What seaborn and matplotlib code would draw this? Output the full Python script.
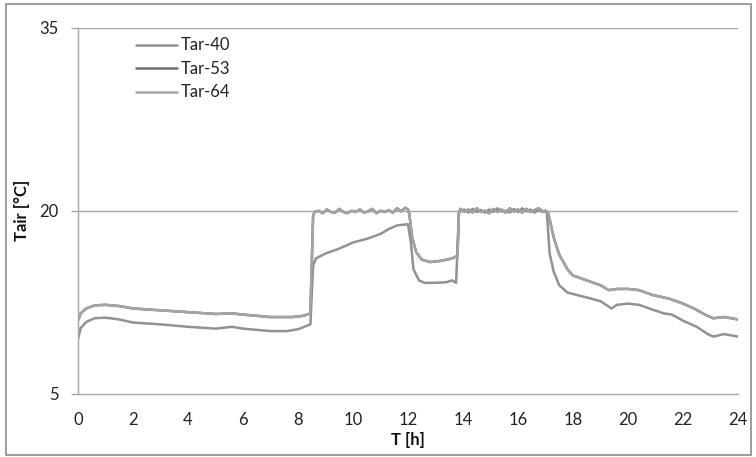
import matplotlib
matplotlib.use("Agg")
import matplotlib.pyplot as plt
import seaborn as sns
import pandas as pd
from matplotlib.patches import Rectangle

# ---------------- data ----------------
series_names = ["Tar-40", "Tar-53", "Tar-64"]

tar64_t = [0.0, 0.1, 0.3, 0.6, 1.0, 1.5, 2.0, 3.0, 4.0, 5.0, 5.6, 6.0, 7.0, 7.8, 8.2, 8.45,
           8.55, 8.6, 8.75, 8.9, 9.05, 9.2, 9.35, 9.5, 9.65, 9.8, 9.95, 10.1, 10.25, 10.4,
           10.55, 10.7, 10.85, 11.0, 11.15, 11.3, 11.45, 11.6, 11.75, 11.9, 12.0,
           12.05, 12.15, 12.3, 12.5, 12.8, 13.2, 13.6, 13.8,
           13.85, 13.9, 14.05, 14.2, 14.35, 14.5, 14.65, 14.8, 14.95, 15.1, 15.25, 15.4,
           15.55, 15.7, 15.85, 16.0, 16.15, 16.3, 16.45, 16.6, 16.75, 16.9, 17.0,
           17.1, 17.3, 17.5, 17.8, 18.0, 18.5, 19.0, 19.3, 19.6, 20.0, 20.4, 20.9, 21.5,
           22.0, 22.4, 22.8, 23.1, 23.5, 24.0]
tar64_v = [11.0, 11.6, 12.0, 12.25, 12.3, 12.2, 12.0, 11.85, 11.7, 11.55, 11.6, 11.5, 11.3, 11.3, 11.4, 11.6,
           19.6, 19.9, 20.0, 19.8, 20.1, 19.9, 19.85, 20.15, 19.9, 19.8, 20.0, 19.9, 20.1, 19.85,
           19.95, 20.15, 19.8, 20.0, 19.9, 20.05, 19.85, 20.2, 19.95, 20.25, 20.1,
           19.7, 17.8, 16.6, 16.0, 15.8, 15.9, 16.1, 16.3,
           19.8, 20.15, 19.9, 20.1, 19.85, 20.2, 19.9, 20.0, 19.8, 20.15, 19.9, 20.1,
           19.85, 20.2, 19.95, 20.1, 19.85, 20.15, 19.9, 20.05, 20.2, 19.95, 20.0,
           19.8, 17.8, 16.4, 15.2, 14.7, 14.3, 13.9, 13.5, 13.6, 13.6, 13.5, 13.1, 12.8,
           12.4, 12.0, 11.5, 11.2, 11.3, 11.1]

# Tar-53 coincides with Tar-64 over the whole day (hidden beneath it)
tar53_t = list(tar64_t)
tar53_v = list(tar64_v)

tar40_t = [0.0, 0.1, 0.3, 0.6, 1.0, 1.5, 2.0, 3.0, 4.0, 5.0, 5.6, 6.0, 7.0, 7.6, 8.0, 8.45,
           8.55, 8.65, 9.0, 9.5, 10.0, 10.5, 11.0, 11.3, 11.6, 12.0,
           12.1, 12.2, 12.4, 12.6, 13.0, 13.4, 13.6, 13.75,
           13.85, 13.9, 14.05, 14.2, 14.35, 14.5, 14.65, 14.8, 14.95, 15.1, 15.25, 15.4,
           15.55, 15.7, 15.85, 16.0, 16.15, 16.3, 16.45, 16.6, 16.75, 16.9, 17.0,
           17.05, 17.15, 17.3, 17.5, 17.8, 18.5, 19.0, 19.2, 19.4, 19.6, 20.0, 20.4, 20.9,
           21.3, 21.6, 22.0, 22.5, 22.9, 23.1, 23.5, 24.0]
tar40_v = [9.5, 10.4, 10.9, 11.2, 11.25, 11.1, 10.85, 10.7, 10.5, 10.35, 10.5, 10.35, 10.15, 10.15, 10.3, 10.7,
           15.5, 16.1, 16.5, 16.9, 17.4, 17.7, 18.1, 18.5, 18.8, 18.9,
           17.5, 15.2, 14.3, 14.1, 14.1, 14.15, 14.3, 14.1,
           19.8, 20.0, 20.1, 19.85, 20.15, 19.9, 20.05, 19.85, 20.1, 19.9, 20.2, 19.95,
           20.0, 19.85, 20.15, 19.9, 20.2, 19.95, 20.1, 19.85, 20.05, 19.9, 19.95,
           19.8, 16.5, 15.0, 13.9, 13.3, 12.9, 12.6, 12.3, 12.0, 12.3, 12.4, 12.3, 11.9,
           11.6, 11.5, 11.0, 10.5, 9.9, 9.7, 9.9, 9.7]

y_ticks = [5, 20, 35]
x_tick_labels = list(range(0, 25, 2))
x_major_marks = list(range(0, 25, 4))

# ---------------- build long-form table ----------------
frames = []
for name, t, v in [("Tar-40", tar40_t, tar40_v), ("Tar-53", tar53_t, tar53_v), ("Tar-64", tar64_t, tar64_v)]:
    frames.append(pd.DataFrame({"T": t, "Tair": v, "series": name}))
df = pd.concat(frames, ignore_index=True)

# ---------------- styling ----------------
sns.set_theme(style="white")
plt.rcParams["font.family"] = ["Lato", "DejaVu Sans"]

palette = {"Tar-40": "#929292", "Tar-53": "#6e6e6e", "Tar-64": "#a4a4a4"}
grey = "#a6a6a6"
fs = 12

fig = plt.figure(figsize=(7.56, 4.57), dpi=100)
ax = fig.add_axes([78 / 756, 1 - 394 / 457, 660 / 756, (394 - 27.5) / 457])

sns.lineplot(data=df, x="T", y="Tair", hue="series", hue_order=series_names,
             palette=palette, estimator=None, sort=False, linewidth=1.8, ax=ax)

ax.set_xlim(0, 24)
ax.set_ylim(5, 35)
ax.set_yticks(y_ticks)
ax.set_xticks(x_tick_labels)
ax.set_xticklabels([str(v) for v in x_tick_labels])
ax.set_xticks(x_major_marks, minor=True)

ax.grid(False)
for y in y_ticks[1:]:
    ax.axhline(y, color=grey, linewidth=1.0, zorder=0)

for side in ["top", "right"]:
    ax.spines[side].set_visible(False)
for side in ["left", "bottom"]:
    ax.spines[side].set_color(grey)
    ax.spines[side].set_linewidth(1.0)

ax.tick_params(axis="y", which="major", direction="out", length=5, width=1.0,
               color=grey, left=True, pad=9, labelsize=fs, labelcolor="#222222")
ax.tick_params(axis="x", which="major", length=0, pad=13, labelsize=fs, labelcolor="#222222")
ax.tick_params(axis="x", which="minor", direction="out", length=5, width=1.0,
               color=grey, bottom=True)

ax.set_xlabel("T [h]", fontsize=fs, fontweight="bold", color="#111111", labelpad=3)
ax.set_ylabel("Tair [°C]", fontsize=fs, fontweight="bold", color="#111111", labelpad=7)

leg = ax.legend(loc="upper left", bbox_to_anchor=(0.083, 0.982), frameon=False,
                fontsize=fs, handlelength=2.45, handletextpad=0.2, labelspacing=0.45,
                borderpad=0.2, borderaxespad=0)
for txt in leg.get_texts():
    txt.set_color("#222222")
for line in leg.get_lines():
    line.set_linewidth(1.8)

fig.patches.append(Rectangle((6 / 756, 1 - 455 / 457), 745 / 756, 451 / 457,
                             transform=fig.transFigure, fill=False,
                             edgecolor="#8c8c8c", linewidth=1.2))

fig.savefig("out.png", dpi=100)
